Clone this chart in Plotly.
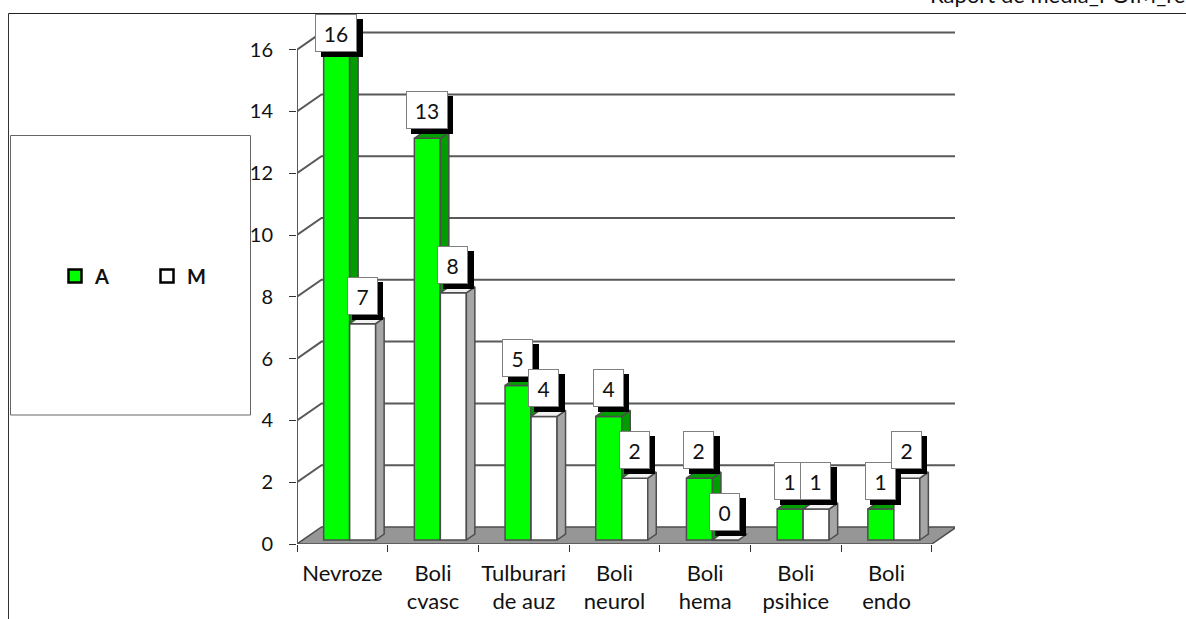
import plotly.graph_objects as go

categories_line1 = ["Nevroze", "Boli", "Tulburari", "Boli", "Boli", "Boli", "Boli"]
categories_line2 = ["", "cvasc", "de auz", "neurol", "hema", "psihice", "endo"]
series_a = [16, 13, 5, 4, 2, 1, 1]
series_m = [7, 8, 4, 2, 0, 1, 2]
y_ticks = [0, 2, 4, 6, 8, 10, 12, 14, 16]

W, H = 1186, 619
X0_PX, X1_PX, Y0_PX, Y1_PX = 297, 955, 544, 13
CAT_PX, UNIT_PX = 90.7, 30.9
x_rng = [0, (X1_PX - X0_PX) / CAT_PX]
y_rng = [0, (Y0_PX - Y1_PX) / UNIT_PX]
BACK_X, BACK_Y = 24.5 / CAT_PX, 17 / UNIT_PX
BAR_W = 26 / CAT_PX
BAR_DX, BAR_BASE = 7.3 / CAT_PX, 4 / UNIT_PX
SIDE_X, SIDE_Y = 8.5 / CAT_PX, 6 / UNIT_PX
n = len(categories_line1)
LINE = "#4d4d4d"
FONT = "Lato"

fig = go.Figure()


def poly(xs, ys, fill, color=LINE, width=1.5, ax=("x", "y")):
    fig.add_trace(go.Scatter(x=xs, y=ys, mode="lines", fill="toself", fillcolor=fill,
                             line=dict(color=color, width=width), hoverinfo="skip",
                             showlegend=False, xaxis=ax[0], yaxis=ax[1]))


# floor
poly([0, n, n + BACK_X, BACK_X, 0], [0, 0, BACK_Y, BACK_Y, 0], "#969696")
# gridlines on the walls
for t in y_ticks[1:]:
    fig.add_trace(go.Scatter(x=[0, BACK_X, n + BACK_X], y=[t, t + BACK_Y, t + BACK_Y], mode="lines",
                             line=dict(color="#595959", width=2), hoverinfo="skip", showlegend=False))
# value axis line
fig.add_trace(go.Scatter(x=[0, 0], y=[0, y_ticks[-1]], mode="lines",
                         line=dict(color="#595959", width=2), hoverinfo="skip", showlegend=False))


def series(values, offset, front, side, top, ax, name):
    xc = [i + 0.5 + BAR_DX + offset for i in range(n)]
    fig.add_trace(go.Bar(x=xc, y=values, base=[BAR_BASE] * n, width=BAR_W, name=name,
                         marker=dict(color=front, line=dict(color=LINE, width=1.5)),
                         showlegend=False, xaxis=ax[0], yaxis=ax[1]))
    for c, v in zip(xc, values):
        r, l, tp = c + BAR_W / 2, c - BAR_W / 2, v + BAR_BASE
        poly([r, r + SIDE_X, r + SIDE_X, r, r],
             [BAR_BASE, BAR_BASE + SIDE_Y, tp + SIDE_Y, tp, BAR_BASE], side, ax=ax)
        poly([l, r, r + SIDE_X, l + SIDE_X, l], [tp, tp, tp + SIDE_Y, tp + SIDE_Y, tp], top, ax=ax)
    return xc


xc_a = series(series_a, -BAR_W / 2, "#00ff00", "#009c00", "#00a000", ("x2", "y2"), "A")
xc_m = series(series_m, BAR_W / 2, "#ffffff", "#a6a6a6", "#f2f2f2", ("x3", "y3"), "M")

# legend-only entries
for nm, col in (("A", "#00ff00"), ("M", "#ffffff")):
    fig.add_trace(go.Scatter(x=[None], y=[None], mode="markers", name=nm,
                             marker=dict(symbol="square", size=13, color=col,
                                         line=dict(color="#000000", width=2.5))))

# anchor for the second row of category labels
fig.add_trace(go.Scatter(x=[0], y=[0], mode="markers", marker=dict(opacity=0, size=1), xaxis="x4", yaxis="y",
                         hoverinfo="skip", showlegend=False))

labels = []
for i in range(n):
    labels.append((xc_a[i], series_a[i]))
    labels.append((xc_m[i], series_m[i]))
annotations = []
BOX_H, GAP, BOX_TOP_MIN = 36, 9, 13.7
for c, v in labels:
    bw = 40 if v >= 10 else 29
    top_px = Y0_PX - (v + BAR_BASE) * UNIT_PX - GAP - BOX_H - 2
    ys = GAP - max(0, BOX_TOP_MIN - top_px)
    annotations.append(dict(x=c, y=v + BAR_BASE, xref="x", yref="y", text="&nbsp;", showarrow=False,
                            yanchor="bottom", width=bw, height=BOX_H, xshift=5, yshift=ys - 5,
                            bgcolor="#000000", borderpad=0, borderwidth=1, bordercolor="#000000"))
    annotations.append(dict(x=c, y=v + BAR_BASE, xref="x", yref="y", text=str(v), showarrow=False,
                            yanchor="bottom", width=bw, height=BOX_H, xshift=-0.5, yshift=ys, valign="middle",
                            bgcolor="#ffffff", borderpad=0, borderwidth=1, bordercolor="#808080",
                            font=dict(family=FONT, size=21, color="#111111")))
annotations.append(dict(x=928 / W, y=1, xref="paper", yref="paper", text="Raport de media_POIM_re",
                        showarrow=False, xanchor="left", yanchor="middle", yshift=6,
                        font=dict(family=FONT, size=22, color="#111111")))

dom_x = [X0_PX / W, X1_PX / W]
dom_y = [1 - Y0_PX / H, 1 - Y1_PX / H]
hidden = dict(visible=False, domain=dom_x, range=x_rng)
hidden_y = dict(visible=False, domain=dom_y, range=y_rng)
centers = [i + 0.5 for i in range(n)]
tickfont = dict(family=FONT, size=20, color="#111111")
xtickfont = dict(family=FONT, size=22, color="#111111")

fig.update_layout(
    width=W, height=H, autosize=False, margin=dict(l=0, r=0, t=0, b=0, autoexpand=False),
    paper_bgcolor="#ffffff", plot_bgcolor="rgba(0,0,0,0)", font=dict(family=FONT),
    barmode="overlay", annotations=annotations, hovermode=False,
    xaxis=dict(domain=dom_x, range=x_rng, showgrid=False, zeroline=False, showline=False,
               tickmode="array", tickvals=centers, ticktext=categories_line1, ticks="", tickfont=xtickfont,
               ticklabelstandoff=14,
               minor=dict(tickmode="array", tickvals=list(range(n + 1)), ticks="outside", ticklen=7,
                          tickwidth=1, tickcolor="#333333", showgrid=False)),
    yaxis=dict(domain=dom_y, range=y_rng, showgrid=False, zeroline=False, showline=False,
               tickmode="array", tickvals=y_ticks, ticks="outside", ticklen=7, tickwidth=1,
               tickcolor="#333333", tickfont=tickfont, ticklabelstandoff=12),
    xaxis2=dict(hidden, overlaying="x", anchor="y2"),
    yaxis2=dict(hidden_y, overlaying="y", anchor="x2"),
    xaxis3=dict(hidden, overlaying="x", anchor="y3"),
    yaxis3=dict(hidden_y, overlaying="y", anchor="x3"),
    xaxis4=dict(domain=dom_x, range=x_rng, overlaying="x", anchor="y", showgrid=False, zeroline=False,
                showline=False, tickmode="array", tickvals=centers, ticktext=categories_line2, ticks="",
                tickfont=xtickfont, ticklabelstandoff=42),
    legend=dict(orientation="h", x=55 / W, y=1 - 276 / H, xanchor="left", yanchor="middle",
                bgcolor="rgba(0,0,0,0)", entrywidth=47, entrywidthmode="pixels",
                font=dict(family=FONT, size=20, color="#111111", weight="bold"),
                itemwidth=30, tracegroupgap=0),
    shapes=[
        dict(type="line", xref="paper", yref="paper", x0=8.5 / W, x1=8.5 / W, y0=0, y1=1 - 13.5 / H,
             line=dict(color="#333333", width=1), layer="below"),
        dict(type="line", xref="paper", yref="paper", x0=8.5 / W, x1=1, y0=1 - 13.5 / H, y1=1 - 13.5 / H,
             line=dict(color="#222222", width=1), layer="below"),
        dict(type="rect", xref="paper", yref="paper", x0=10.5 / W, x1=250.5 / W, y0=1 - 415 / H, y1=1 - 135.5 / H,
             line=dict(color="#666666", width=1), fillcolor="#ffffff", layer="below"),
    ],
)
fig.write_html("out.html", config=dict(displayModeBar=False),
               post_script="document.body.style.margin='0';document.documentElement.style.overflow='hidden';")
